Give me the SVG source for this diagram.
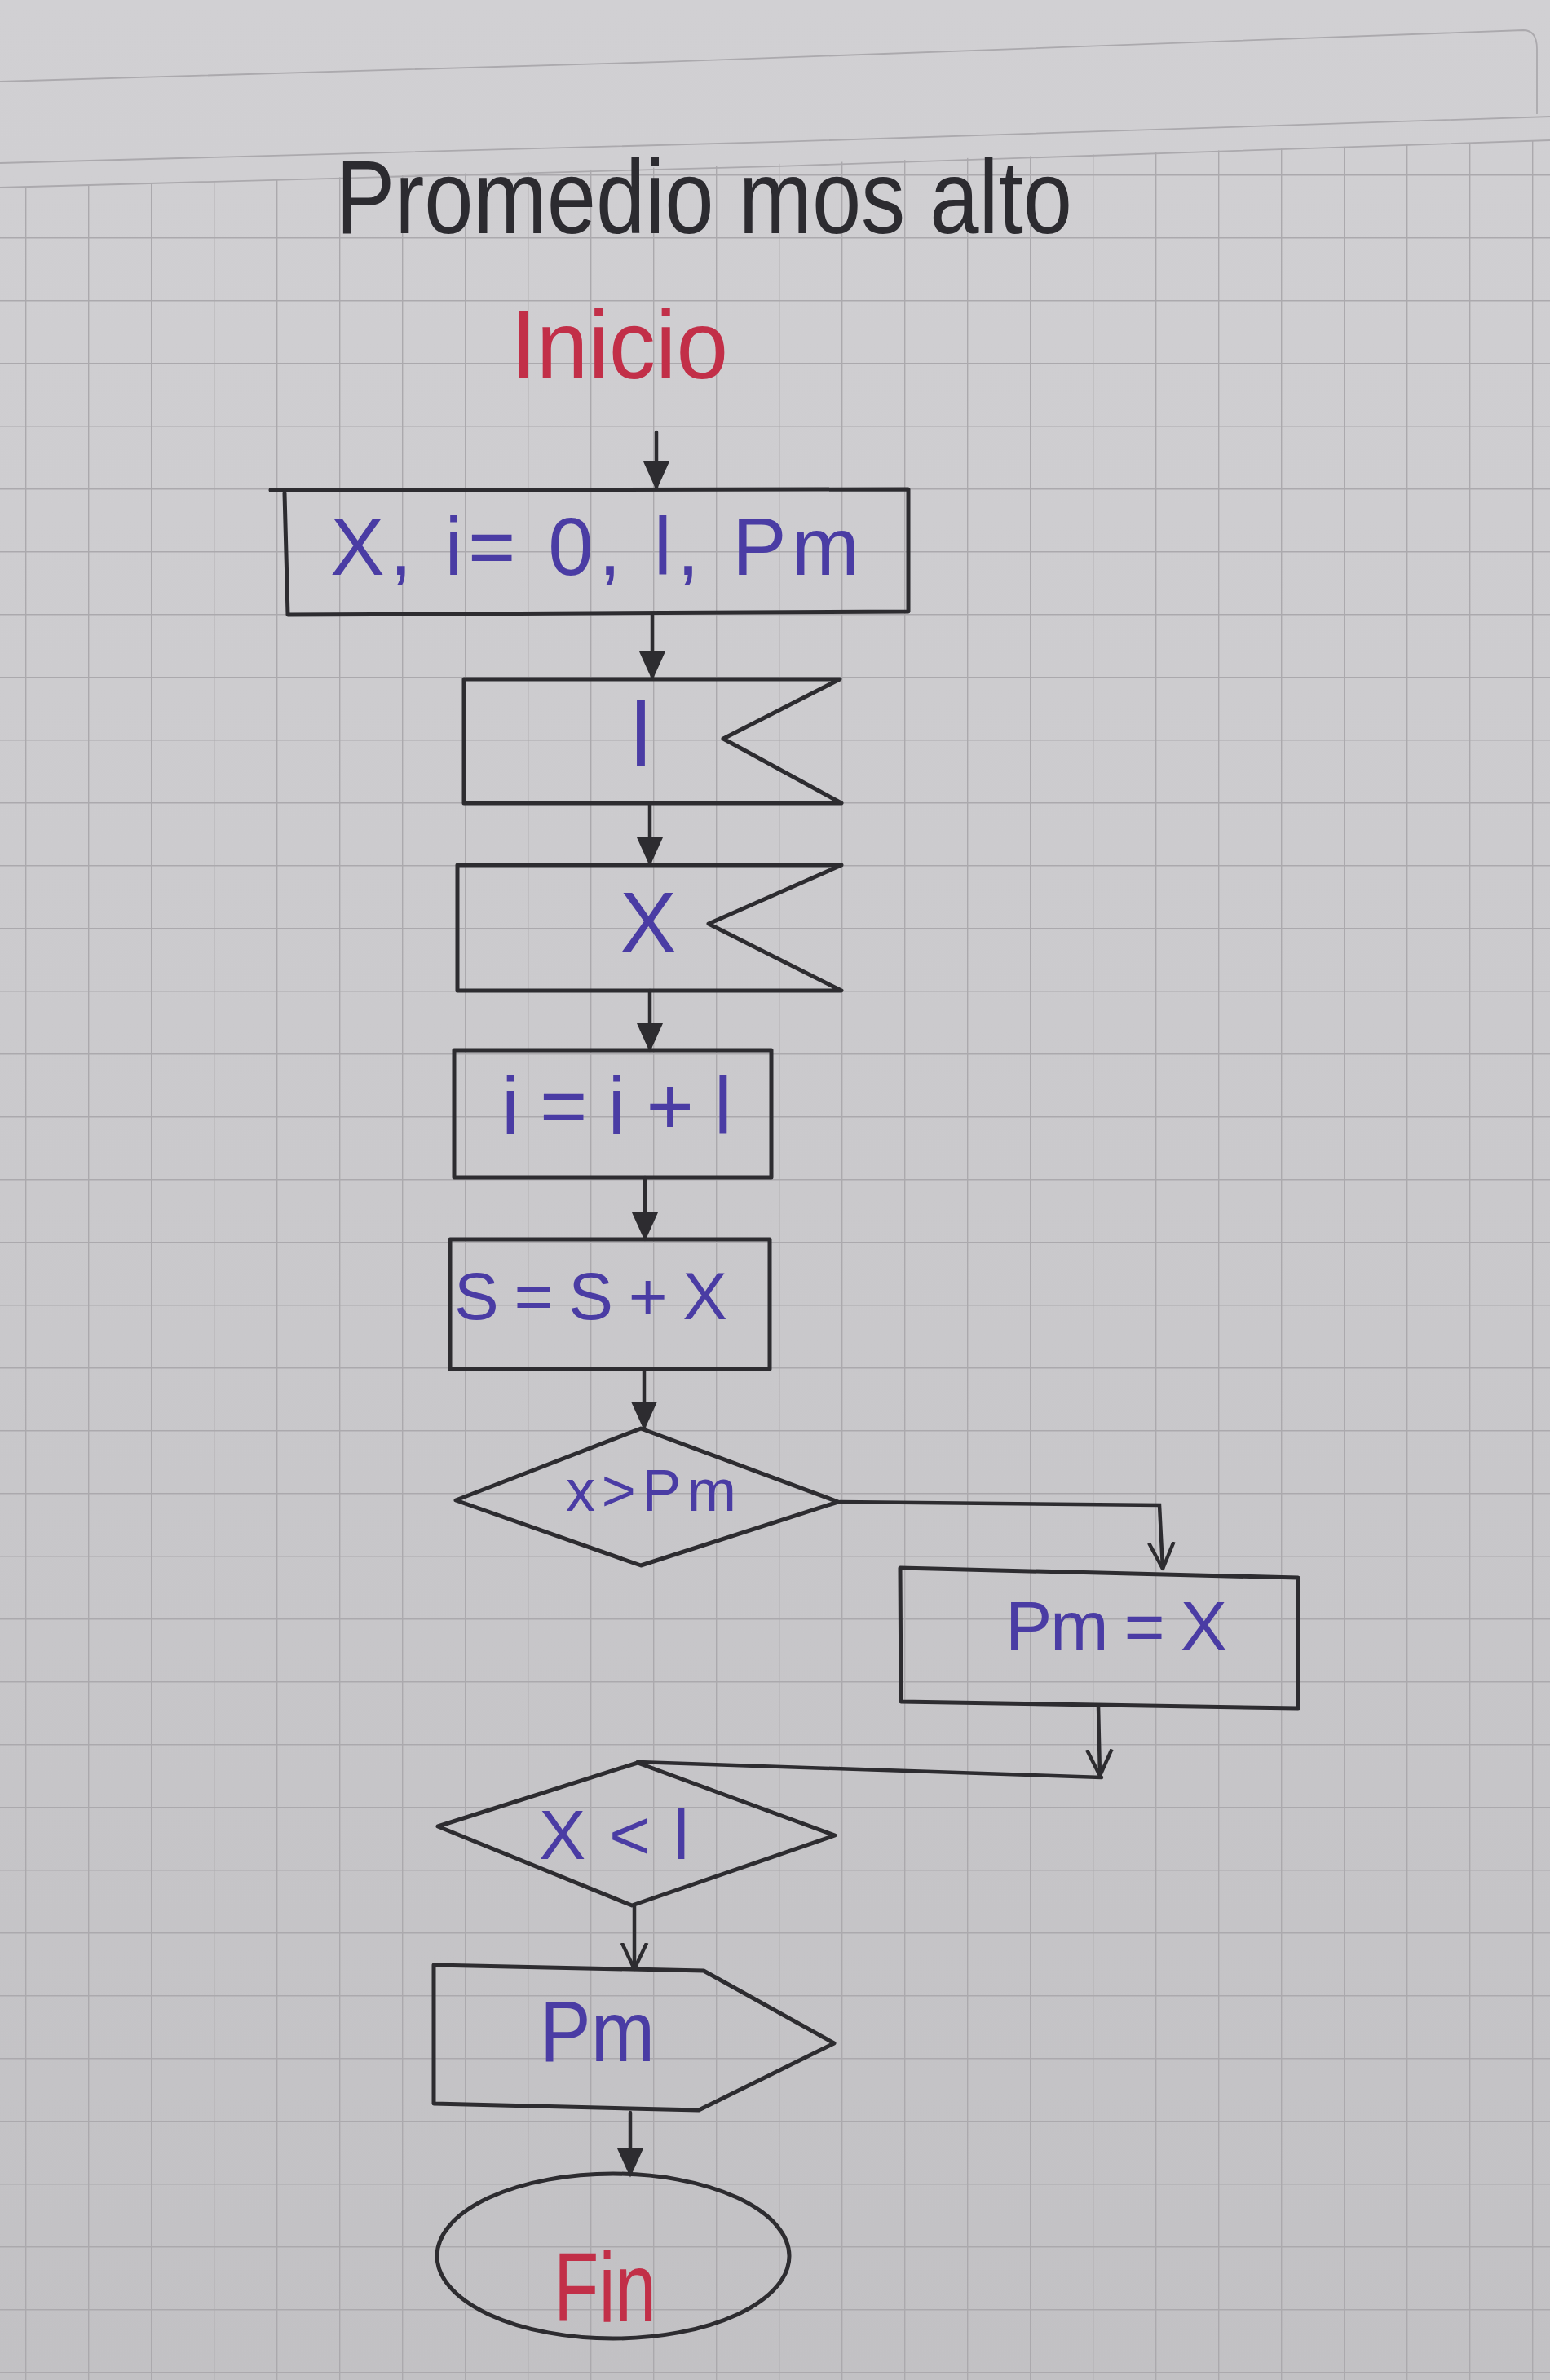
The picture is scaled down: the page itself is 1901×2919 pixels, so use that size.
<svg xmlns="http://www.w3.org/2000/svg" width="1901" height="2919" viewBox="0 0 1901 2919">
<defs>
<style>
.shape{fill:none;stroke:#2d2c30;stroke-width:5;stroke-linejoin:round;stroke-linecap:round}
.conn{fill:none;stroke:#2d2c30;stroke-width:4.5;stroke-linecap:round}
.ink{font-family:"Liberation Sans",Arial,sans-serif;fill:#4a3ca4}
.red{font-family:"Liberation Sans",Arial,sans-serif;fill:#c22f48}
.title{font-family:"Liberation Sans",Arial,sans-serif;fill:#2c2b30}
.grid{stroke:#aba9ad;stroke-width:1.8;fill:none}
</style>
<linearGradient id="paper" x1="0" y1="0" x2="0" y2="1">
<stop offset="0" stop-color="#d1d0d3"/>
<stop offset="0.5" stop-color="#cac9cc"/>
<stop offset="1" stop-color="#c2c1c4"/>
</linearGradient>
<pattern id="gridpat" width="77" height="77" patternUnits="userSpaceOnUse" x="31" y="60">
<path d="M0,0.5 H77 M0.5,0 V77" class="grid"/>
</pattern>
<clipPath id="gridclip"><polygon points="0,230 1901,172 1901,2919 0,2919"/></clipPath>
<marker id="fill" viewBox="0 0 10 10" refX="9" refY="5" markerWidth="36" markerHeight="40" markerUnits="userSpaceOnUse" orient="auto">
<path d="M0,0.5 L10,5 L0,9.5 Z" fill="#2d2c30"/>
</marker>
<marker id="open" viewBox="0 0 10 10" refX="9.5" refY="5" markerWidth="34" markerHeight="40" markerUnits="userSpaceOnUse" orient="auto">
<path d="M0,0.5 L9.5,5 L0,9.5" fill="none" stroke="#2d2c30" stroke-width="1.3"/>
</marker>
</defs>

<rect width="1901" height="2919" fill="url(#paper)"/>
<g id="paper-lines">
<rect x="0" y="0" width="1901" height="2919" fill="url(#gridpat)" clip-path="url(#gridclip)"/>
<path class="grid" d="M0,100 C600,85 1300,60 1868,37 Q1885,37 1885,60 L1885,140"/>
<path class="grid" d="M0,200 C600,185 1300,165 1901,143"/>
<path class="grid" d="M0,230 C600,215 1300,195 1901,172"/>
</g>

<g id="title"><text class="title" x="412" y="286" font-size="128" textLength="903" lengthAdjust="spacingAndGlyphs">Promedio mos alto</text></g>

<g id="connectors">
<path class="conn" d="M805,530 V598" marker-end="url(#fill)"/>
<path class="conn" d="M800,752 V831" marker-end="url(#fill)"/>
<path class="conn" d="M797,985 V1059" marker-end="url(#fill)"/>
<path class="conn" d="M797,1215 V1287" marker-end="url(#fill)"/>
<path class="conn" d="M791,1444 V1519" marker-end="url(#fill)"/>
<path class="conn" d="M790,1679 V1751" marker-end="url(#fill)"/>
<path class="conn" d="M1030,1842 L1422,1846 L1426,1924" marker-end="url(#open)"/>
<path class="conn" d="M1347,2092 L1349,2178" marker-end="url(#open)"/>
<path class="conn" d="M782,2161 L1351,2180"/>
<path class="conn" d="M778,2337 V2415" marker-end="url(#open)"/>
<path class="conn" d="M773,2591 V2667" marker-end="url(#fill)"/>
</g>

<g id="inicio"><text class="red" x="626" y="464" font-size="118" textLength="267" lengthAdjust="spacingAndGlyphs">Inicio</text></g>

<g id="declare">
<path class="shape" d="M332,601 L1114,600 L1114,750 L353,754 L349,605"/>
<text class="ink" x="405" y="705" font-size="100" textLength="649" lengthAdjust="spacing">X, i= 0, l, Pm</text>
</g>

<g id="input-l">
<path class="shape" d="M569,833 L1030,833 L887,906 L1032,985 L569,985 Z"/>
<text class="ink" x="786" y="940" font-size="112" text-anchor="middle">l</text>
</g>

<g id="input-x">
<path class="shape" d="M561,1061 L1032,1061 L869,1133 L1032,1215 L561,1215 Z"/>
<text class="ink" x="795" y="1168" font-size="105" text-anchor="middle">X</text>
</g>

<g id="increment">
<path class="shape" d="M557,1288 L946,1288 L946,1444 L557,1444 Z"/>
<text class="ink" x="615" y="1391" font-size="100" textLength="283" lengthAdjust="spacing">i=i+l</text>
</g>

<g id="sum">
<path class="shape" d="M552,1520 L944,1520 L944,1679 L552,1679 Z"/>
<text class="ink" x="557" y="1618" font-size="82" textLength="335" lengthAdjust="spacing">S = S + X</text>
</g>

<g id="decision-max">
<path class="shape" d="M786,1752 L1028,1842 L786,1920 L559,1840 Z"/>
<text class="ink" x="694" y="1853" font-size="72" textLength="209" lengthAdjust="spacing">x&gt;Pm</text>
</g>

<g id="assign-max">
<path class="shape" d="M1104,1923 L1592,1935 L1592,2095 L1105,2087 Z"/>
<text class="ink" x="1233" y="2024" font-size="86" textLength="272" lengthAdjust="spacing">Pm = X</text>
</g>

<g id="decision-loop">
<path class="shape" d="M782,2162 L1024,2251 L775,2337 L537,2240 Z"/>
<text class="ink" x="661" y="2280" font-size="86" textLength="184" lengthAdjust="spacing">X&lt;l</text>
</g>

<g id="output">
<path class="shape" d="M532,2410 L863,2417 L1023,2506 L857,2588 L532,2580 Z"/>
<text class="ink" x="662" y="2528" font-size="105" textLength="141" lengthAdjust="spacingAndGlyphs">Pm</text>
</g>

<g id="fin">
<ellipse class="shape" cx="752" cy="2767" rx="216" ry="101"/>
<text class="red" x="679" y="2847" font-size="120" textLength="126" lengthAdjust="spacingAndGlyphs">Fin</text>
</g>
</svg>
